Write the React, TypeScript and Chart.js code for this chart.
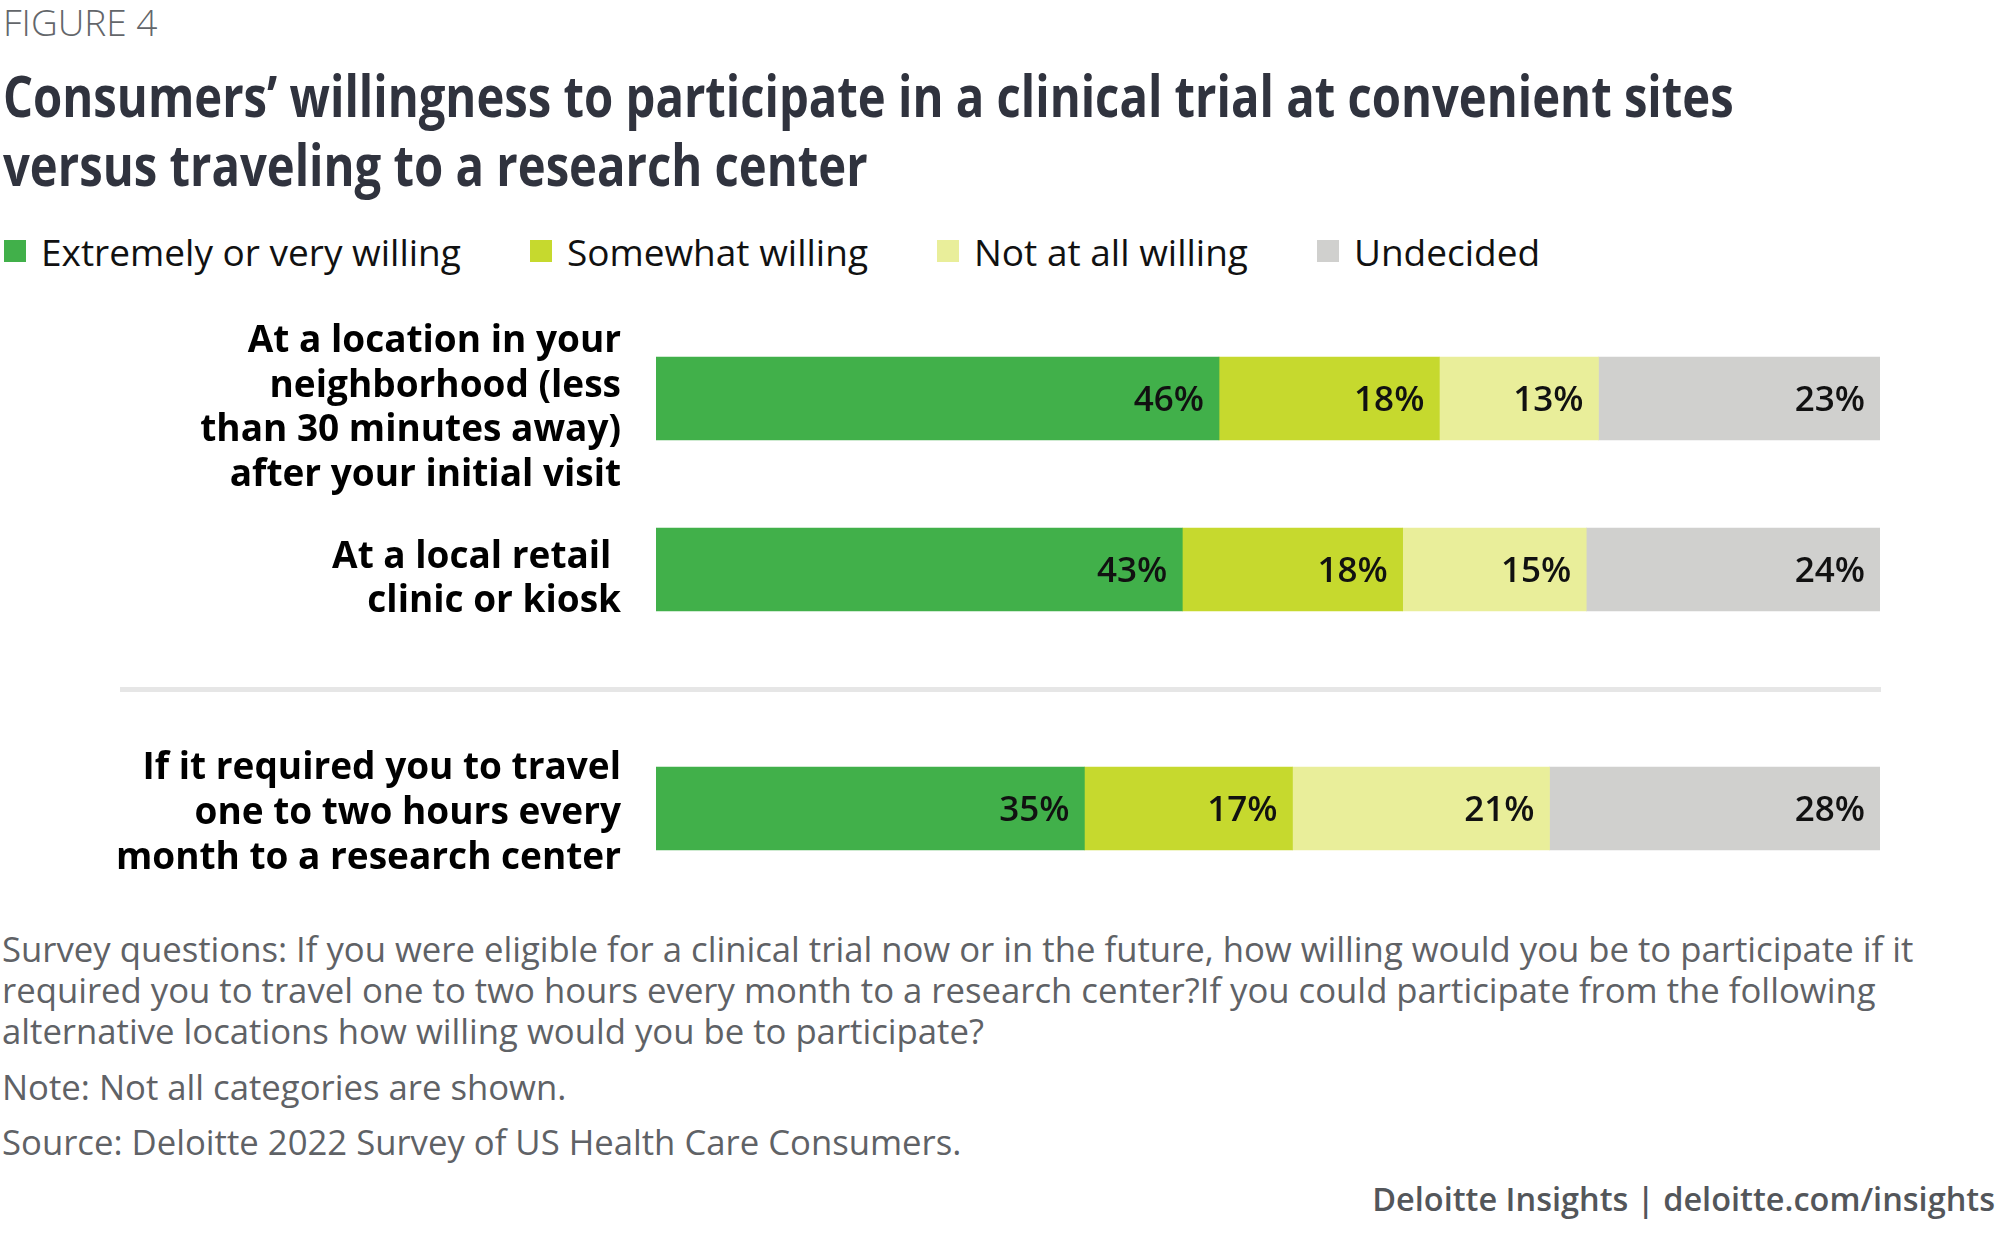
import React, { useEffect, useLayoutEffect, useRef, useState } from "react";
import { Chart, registerables } from "chart.js";

Chart.register(...registerables);

// ---------- data ----------
const seriesNames = ["Extremely or very willing", "Somewhat willing", "Not at all willing", "Undecided"];
const seriesColors = ["#41b04a", "#c6d92e", "#e9ee9a", "#d0d0ce"];

const localCategories = [
  ["At a location in your", "neighborhood (less", "than 30 minutes away)", "after your initial visit"],
  ["At a local retail ", "clinic or kiosk"],
];
const localExtremely = [46, 43];
const localSomewhat = [18, 18];
const localNotAtAll = [13, 15];
const localUndecided = [23, 24];

const travelCategories = [["If it required you to travel", "one to two hours every", "month to a research center"]];
const travelExtremely = [35];
const travelSomewhat = [17];
const travelNotAtAll = [21];
const travelUndecided = [28];

const axisMax = 100;

const FONT = "'Open Sans', 'Noto Sans', sans-serif";

const labelPlugin = {
  id: "segmentLabels",
  afterDatasetsDraw(chart: any) {
    const { ctx, chartArea } = chart;
    ctx.save();
    ctx.font = `600 35px ${FONT}`;
    ctx.fillStyle = "#111";
    ctx.textAlign = "right";
    ctx.textBaseline = "middle";
    chart.data.datasets.forEach((ds: any, di: number) => {
      const meta = chart.getDatasetMeta(di);
      meta.data.forEach((el: any, i: number) => {
        const v = ds.data[i];
        const x = Math.min(el.x, chartArea.right) - 15;
        ctx.fillText(`${v}%`, x, el.y + 3);
      });
    });
    ctx.restore();
  },
};

function buildConfig(categories: string[][], values: number[][], labelOffset: number) {
  return {
    type: "bar" as const,
    data: {
      labels: categories,
      datasets: values.map((vals, i) => ({
        label: seriesNames[i],
        data: vals,
        backgroundColor: seriesColors[i],
        borderWidth: 0,
        barThickness: 83,
        clip: 0,
      })),
    },
    options: {
      indexAxis: "y" as const,
      animation: false as const,
      responsive: false,
      devicePixelRatio: 1,
      layout: { padding: { left: 0, right: 20, top: 0, bottom: 0 } },
      plugins: { legend: { display: false }, tooltip: { enabled: false } },
      scales: {
        x: { stacked: true, min: 0, max: axisMax, display: false },
        y: {
          stacked: true,
          grid: { display: false, drawTicks: false },
          border: { display: false },
          afterFit: (scale: any) => {
            scale.width = 656;
            scale.paddingTop = 0;
            scale.paddingBottom = 0;
          },
          ticks: {
            autoSkip: false,
            padding: 35,
            labelOffset,
            color: "#000",
            font: { family: FONT, size: 37, weight: "bold" as const, lineHeight: 1.205 },
          },
        },
      },
    },
    plugins: [labelPlugin],
  };
}

function BarChart({ categories, values, top, height, labelOffset }: { categories: string[][]; values: number[][]; top: number; height: number; labelOffset: number }) {
  const ref = useRef<HTMLCanvasElement | null>(null);
  useEffect(() => {
    if (!ref.current) return;
    const chart = new Chart(ref.current, buildConfig(categories, values, labelOffset) as any);
    return () => chart.destroy();
  }, []);
  return (
    <canvas
      ref={ref}
      width={1900}
      height={height}
      style={{ position: "absolute", left: 0, top, width: 1900, height, display: "block" }}
    />
  );
}

export default function App() {
  const titleRef = useRef<HTMLSpanElement | null>(null);
  const [scale, setScale] = useState(0.7);
  useLayoutEffect(() => {
    if (titleRef.current) {
      const w = titleRef.current.offsetWidth;
      if (w > 0) setScale(1731 / w);
    }
  }, []);

  const titleStyle: React.CSSProperties = {
    display: "inline-block",
    whiteSpace: "nowrap",
    transform: `scaleX(${scale})`,
    transformOrigin: "left center",
  };

  const noteStyle: React.CSSProperties = {
    position: "absolute",
    left: 2,
    fontSize: 34.7,
    lineHeight: "41px",
    color: "#5f6266",
    whiteSpace: "nowrap",
  };

  return (
    <div
      style={{
        position: "absolute",
        left: 0,
        top: 0,
        width: 2000,
        height: 1236,
        background: "#fff",
        overflow: "hidden",
        fontFamily: FONT,
      }}
    >
      <div style={{ position: "absolute", left: 3, top: 1, fontSize: 37, lineHeight: "42px", color: "#63666a", fontWeight: 300 }}>
        FIGURE 4
      </div>
      <div style={{ position: "absolute", left: 3, top: 60, fontSize: 58, lineHeight: "69px", color: "#30333e", fontWeight: 700 }}>
        <div>
          <span ref={titleRef} style={titleStyle}>
            Consumers’ willingness to participate in a clinical trial at convenient sites
          </span>
        </div>
        <div>
          <span style={titleStyle}>versus traveling to a research center</span>
        </div>
      </div>

      <div style={{ position: "absolute", left: 4, top: 229, height: 44, display: "flex", alignItems: "center" }}>
        {seriesNames.map((name, i) => (
          <div key={name} style={{ display: "flex", alignItems: "center", marginRight: 69 }}>
            <div style={{ width: 22, height: 22, background: seriesColors[i], marginRight: 15 }} />
            <span style={{ fontSize: 37, color: "#111", whiteSpace: "nowrap" }}>{name}</span>
          </div>
        ))}
      </div>

      <BarChart
        categories={localCategories}
        values={[localExtremely, localSomewhat, localNotAtAll, localUndecided]}
        top={313}
        height={342}
        labelOffset={10}
      />
      <div style={{ position: "absolute", left: 120, top: 687, width: 1761, height: 5, background: "#e6e6e6" }} />
      <BarChart
        categories={travelCategories}
        values={[travelExtremely, travelSomewhat, travelNotAtAll, travelUndecided]}
        top={723}
        height={171}
        labelOffset={5}
      />

      <div style={{ ...noteStyle, top: 928 }}>
        Survey questions: If you were eligible for a clinical trial now or in the future, how willing would you be to participate if it
        <br />
        required you to travel one to two hours every month to a research center?If you could participate from the following
        <br />
        alternative locations how willing would you be to participate?
      </div>
      <div style={{ ...noteStyle, top: 1066 }}>Note: Not all categories are shown.</div>
      <div style={{ ...noteStyle, top: 1121 }}>Source: Deloitte 2022 Survey of US Health Care Consumers.</div>
      <div style={{ position: "absolute", right: 5, top: 1178, fontSize: 32.5, lineHeight: "41px", color: "#53565a", fontWeight: 600, whiteSpace: "nowrap" }}>
        Deloitte Insights | deloitte.com/insights
      </div>
    </div>
  );
}
